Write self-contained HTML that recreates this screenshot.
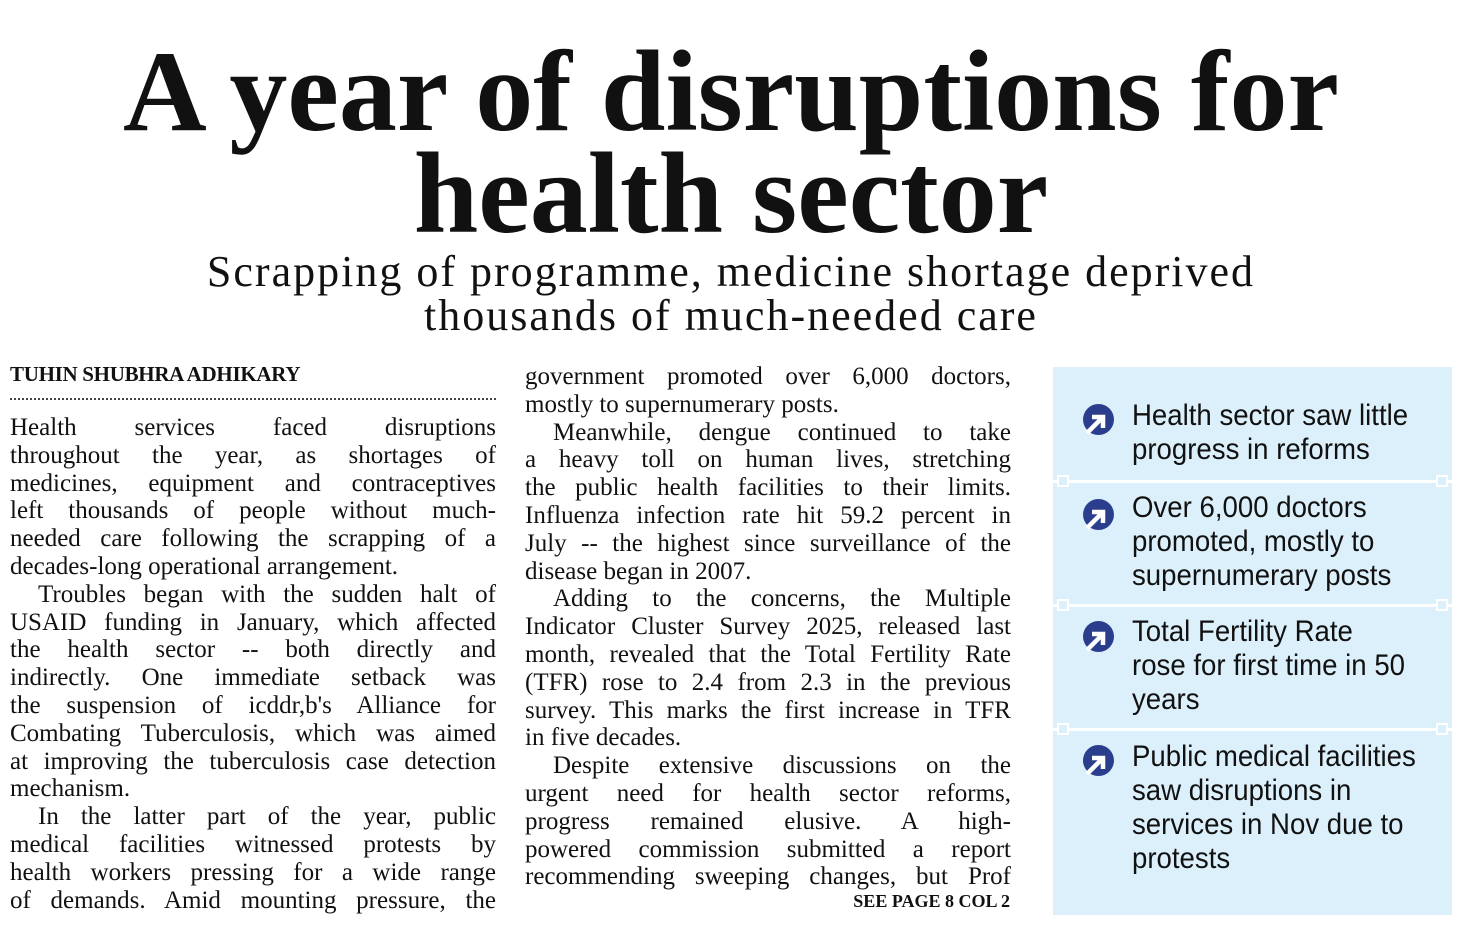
<!DOCTYPE html>
<html><head><meta charset="utf-8">
<style>
body{margin:0;width:1462px;height:928px;background:#fff;position:relative;overflow:hidden;color:#111;}
.h{position:absolute;left:0;width:1462px;text-align:center;font-family:"Liberation Serif",serif;font-weight:bold;white-space:nowrap;}
.sub{position:absolute;left:0;width:1462px;text-align:center;font-family:"Liberation Serif",serif;font-size:44px;letter-spacing:2px;white-space:nowrap;}
.col{position:absolute;width:486px;font-family:"Liberation Serif",serif;font-size:25px;line-height:27.8px;}
.col div{white-space:nowrap;text-align:justify;text-align-last:justify;height:27.8px;overflow:visible;}
.col div.l{text-align-last:left;}
.col div.i{text-indent:28px;}
.side{position:absolute;left:1053px;top:367px;width:399px;height:548px;background:#dcf0fb;}
.sep{position:absolute;left:0;width:399px;height:3px;background:#fff;}
.sq{position:absolute;width:12px;height:12px;border:2px solid #fff;background:#dcf0fb;box-sizing:border-box;}
.item{position:absolute;left:79px;font-family:"Liberation Sans Narrow","Liberation Sans",sans-serif;font-size:30px;line-height:34px;color:#111;white-space:nowrap;transform:scaleX(0.92);transform-origin:left top;}
.ic{position:absolute;left:30px;width:31px;height:31px;}
</style></head><body>
<div class="h" style="top:26px;font-size:116px;">A year of disruptions for</div>
<div class="h" style="top:128px;font-size:116px;">health sector</div>
<div class="sub" style="top:246px;">Scrapping of programme, medicine shortage deprived</div>
<div class="sub" style="top:290px;">thousands of much-needed care</div>

<div style="position:absolute;left:10px;top:362px;font-family:'Liberation Serif',serif;font-weight:bold;font-size:21px;letter-spacing:-0.3px;">TUHIN SHUBHRA ADHIKARY</div>
<div style="position:absolute;left:10px;top:398px;width:486px;border-top:2px dotted #444;"></div>

<div class="col" style="left:10px;top:414px;">
<div>Health services faced disruptions</div>
<div>throughout the year, as shortages of</div>
<div>medicines, equipment and contraceptives</div>
<div>left thousands of people without much-</div>
<div>needed care following the scrapping of a</div>
<div class="l">decades-long operational arrangement.</div>
<div class="i">Troubles began with the sudden halt of</div>
<div>USAID funding in January, which affected</div>
<div>the health sector -- both directly and</div>
<div>indirectly. One immediate setback was</div>
<div>the suspension of icddr,b's Alliance for</div>
<div>Combating Tuberculosis, which was aimed</div>
<div>at improving the tuberculosis case detection</div>
<div class="l">mechanism.</div>
<div class="i">In the latter part of the year, public</div>
<div>medical facilities witnessed protests by</div>
<div>health workers pressing for a wide range</div>
<div>of demands. Amid mounting pressure, the</div>
</div>

<div class="col" style="left:525px;top:363px;">
<div>government promoted over 6,000 doctors,</div>
<div class="l">mostly to supernumerary posts.</div>
<div class="i">Meanwhile, dengue continued to take</div>
<div>a heavy toll on human lives, stretching</div>
<div>the public health facilities to their limits.</div>
<div>Influenza infection rate hit 59.2 percent in</div>
<div>July -- the highest since surveillance of the</div>
<div class="l">disease began in 2007.</div>
<div class="i">Adding to the concerns, the Multiple</div>
<div>Indicator Cluster Survey 2025, released last</div>
<div>month, revealed that the Total Fertility Rate</div>
<div>(TFR) rose to 2.4 from 2.3 in the previous</div>
<div>survey. This marks the first increase in TFR</div>
<div class="l">in five decades.</div>
<div class="i">Despite extensive discussions on the</div>
<div>urgent need for health sector reforms,</div>
<div>progress remained elusive. A high-</div>
<div>powered commission submitted a report</div>
<div>recommending sweeping changes, but Prof</div>
</div>
<div style="position:absolute;left:760px;width:250px;top:891px;text-align:right;font-family:'Liberation Serif',serif;font-weight:bold;font-size:18px;">SEE PAGE 8 COL 2</div>

<div class="side">
<div class="sep" style="top:113px"></div><div class="sq" style="left:4px;top:108px"></div><div class="sq" style="left:383px;top:108px"></div>
<div class="sep" style="top:237px"></div><div class="sq" style="left:4px;top:232px"></div><div class="sq" style="left:383px;top:232px"></div>
<div class="sep" style="top:361px"></div><div class="sq" style="left:4px;top:356px"></div><div class="sq" style="left:383px;top:356px"></div>

<svg class="ic" style="top:37px" viewBox="0 0 31 31"><circle cx="15.5" cy="15.5" r="15.5" fill="#2b3e8e"/><path d="M4 29 L18 15 M9 13 H20 V24" stroke="#fff" stroke-width="4.5" fill="none"/></svg>
<div class="item" style="top:32px">Health sector saw little<br>progress in reforms</div>

<svg class="ic" style="top:132px" viewBox="0 0 31 31"><circle cx="15.5" cy="15.5" r="15.5" fill="#2b3e8e"/><path d="M4 29 L18 15 M9 13 H20 V24" stroke="#fff" stroke-width="4.5" fill="none"/></svg>
<div class="item" style="top:124px">Over 6,000 doctors<br>promoted, mostly to<br>supernumerary posts</div>

<svg class="ic" style="top:254px" viewBox="0 0 31 31"><circle cx="15.5" cy="15.5" r="15.5" fill="#2b3e8e"/><path d="M4 29 L18 15 M9 13 H20 V24" stroke="#fff" stroke-width="4.5" fill="none"/></svg>
<div class="item" style="top:248px">Total Fertility Rate<br>rose for first time in 50<br>years</div>

<svg class="ic" style="top:378px" viewBox="0 0 31 31"><circle cx="15.5" cy="15.5" r="15.5" fill="#2b3e8e"/><path d="M4 29 L18 15 M9 13 H20 V24" stroke="#fff" stroke-width="4.5" fill="none"/></svg>
<div class="item" style="top:373px">Public medical facilities<br>saw disruptions in<br>services in Nov due to<br>protests</div>
</div>
</body></html>
